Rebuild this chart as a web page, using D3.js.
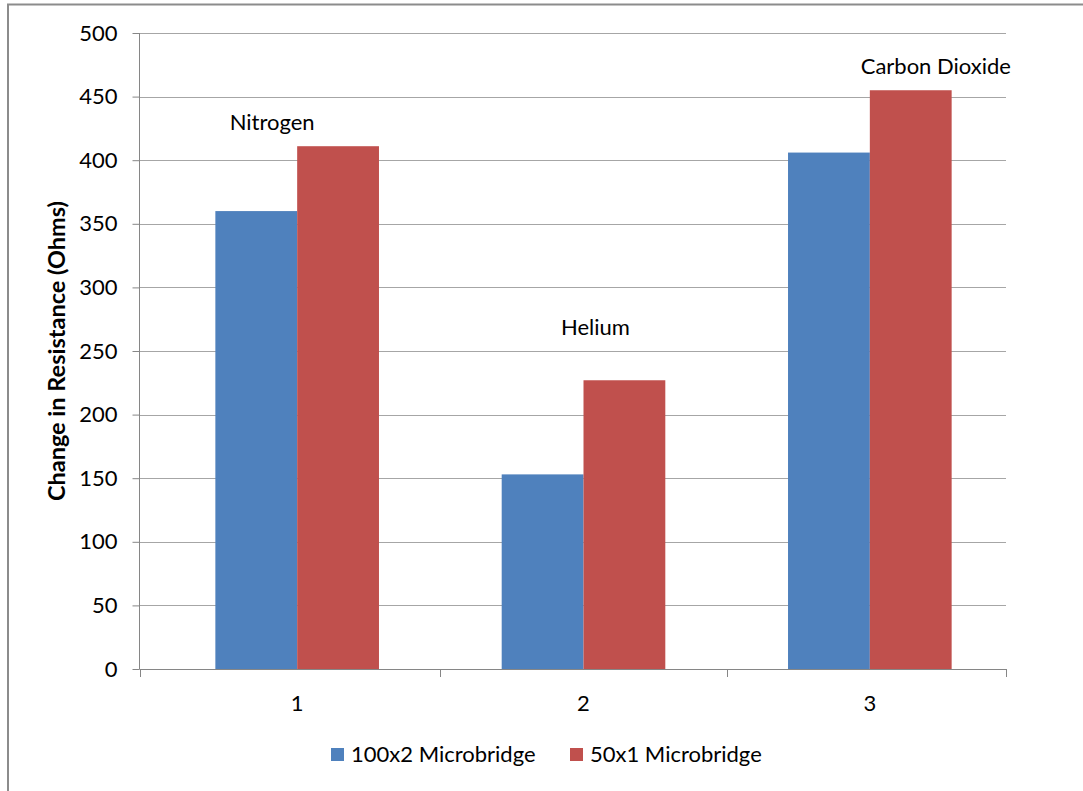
<!DOCTYPE html>
<html>
<head>
<meta charset="utf-8">
<script src="https://cdn.jsdelivr.net/npm/d3@7"></script>
<style>
  body { margin: 0; background: #fff; }
  text { font-family: Lato, "Open Sans", sans-serif; fill: #000; }
</style>
</head>
<body>
<svg id="chart" width="1083" height="791"></svg>
<script>
// data
const categories = ["1", "2", "3"];
const gasNames = ["Nitrogen", "Helium", "Carbon Dioxide"];
const seriesNames = ["100x2 Microbridge", "50x1 Microbridge"];
const micro100x2 = [360, 153, 406];
const micro50x1 = [411, 227, 455];
const yTicks = [0, 50, 100, 150, 200, 250, 300, 350, 400, 450, 500];
const colors = ["#4F81BD", "#C0504D"];

const width = 1083, height = 791;
const plot = { left: 139.5, right: 1006, top: 33, bottom: 669 };

const svg = d3.select("#chart");

// outer chart frame, clipped by the page on the right and bottom
svg.append("rect")
   .attr("x", 8).attr("y", 4.5)
   .attr("width", width + 20).attr("height", height + 20)
   .attr("fill", "#fff")
   .attr("stroke", "#8c8c8c")
   .attr("stroke-width", 2);

// the groups sit a little right of the axis in the original
const x0 = d3.scaleBand()
             .domain(categories)
             .range([154, 1013]);
const x1 = d3.scaleBand()
             .domain(seriesNames)
             .range([0, x0.bandwidth()])
             .paddingOuter(0.75);
const y = d3.scaleLinear()
            .domain([0, 500])
            .range([plot.bottom, plot.top]);

// gridlines
svg.append("g")
   .selectAll("line")
   .data(yTicks.filter(d => d > 0))
   .join("line")
   .attr("x1", plot.left).attr("x2", plot.right)
   .attr("y1", d => Math.round(y(d)) + 0.5)
   .attr("y2", d => Math.round(y(d)) + 0.5)
   .attr("stroke", "#a6a6a6")
   .attr("stroke-width", 1);

// bars
const rows = categories.map((c, i) => ({ cat: c, vals: [micro100x2[i], micro50x1[i]] }));
svg.append("g")
   .selectAll("g")
   .data(rows)
   .join("g")
   .attr("transform", d => `translate(${x0(d.cat)},0)`)
   .selectAll("rect")
   .data(d => d.vals.map((v, j) => ({ name: seriesNames[j], v, j })))
   .join("rect")
   .attr("x", d => x1(d.name))
   .attr("y", d => y(d.v))
   .attr("width", x1.bandwidth())
   .attr("height", d => y(0) - y(d.v))
   .attr("fill", d => colors[d.j]);

// y axis
const yAxis = svg.append("g")
   .attr("transform", `translate(${plot.left},0)`)
   .call(d3.axisLeft(y).tickValues(yTicks).tickSize(7).tickPadding(15));
yAxis.selectAll("line").attr("stroke", "#868686");
yAxis.select(".domain").attr("stroke", "#868686").attr("d", `M0,${plot.top}V${plot.bottom}`);
yAxis.selectAll("text")
     .style("font-family", "Lato, sans-serif")
     .style("font-size", "22px")
     .attr("fill", "#000");

// x axis: labels at centres, ticks on category boundaries
svg.append("line")
   .attr("x1", plot.left).attr("x2", plot.right)
   .attr("y1", plot.bottom + 0.5).attr("y2", plot.bottom + 0.5)
   .attr("stroke", "#868686");
const bounds = [plot.left].concat(categories.slice(1).map(c => x0(c)), [plot.right]);
svg.append("g")
   .selectAll("line")
   .data(bounds)
   .join("line")
   .attr("x1", d => Math.round(d) + 0.5).attr("x2", d => Math.round(d) + 0.5)
   .attr("y1", plot.bottom).attr("y2", plot.bottom + 8)
   .attr("stroke", "#868686");
svg.append("g")
   .selectAll("text")
   .data(categories)
   .join("text")
   .attr("x", d => x0(d) + x0.bandwidth() / 2)
   .attr("y", plot.bottom + 42)
   .attr("text-anchor", "middle")
   .style("font-size", "22px")
   .text(d => d);

// gas labels above each group
const labelNudge = [[-25, -24], [12, -53], [66, -24]];
svg.append("g")
   .selectAll("text")
   .data(gasNames)
   .join("text")
   .attr("x", (d, i) => x0(categories[i]) + x0.bandwidth() / 2 + labelNudge[i][0])
   .attr("y", (d, i) => y(Math.max(micro100x2[i], micro50x1[i])) + labelNudge[i][1])
   .attr("dy", "0.35em")
   .attr("text-anchor", "middle")
   .style("font-size", "22px")
   .text(d => d);

// y axis title
svg.append("text")
   .attr("transform", `translate(57,${(plot.top + plot.bottom) / 2}) rotate(-90)`)
   .attr("dy", "0.35em")
   .attr("text-anchor", "middle")
   .style("font-size", "23.5px")
   .style("font-weight", "bold")
   .text("Change in Resistance (Ohms)");

// legend
const legendX = [331, 570];
const legend = svg.append("g")
   .selectAll("g")
   .data(seriesNames)
   .join("g")
   .attr("transform", (d, i) => `translate(${legendX[i]},748)`);
legend.append("rect")
      .attr("width", 13).attr("height", 13)
      .attr("fill", (d, i) => colors[i]);
legend.append("text")
      .attr("x", 20).attr("y", 14)
      .style("font-size", "22px")
      .text(d => d);
</script>
</body>
</html>
